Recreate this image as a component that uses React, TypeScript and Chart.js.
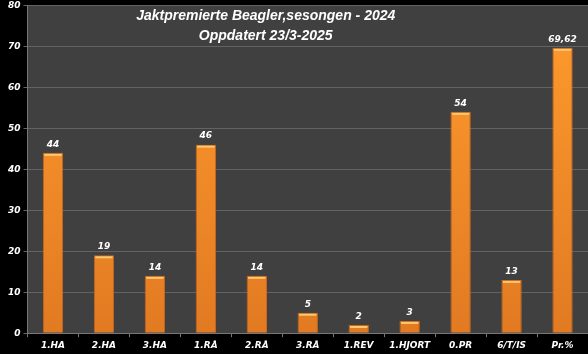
import React, { useEffect, useRef } from 'react';
import { Chart, registerables } from 'chart.js';
Chart.register(...registerables);

const categories = ['1.HA', '2.HA', '3.HA', '1.RÅ', '2.RÅ', '3.RÅ', '1.REV', '1.HJORT', '0.PR', '6/T/IS', 'Pr.%'];
const values = [44, 19, 14, 46, 14, 5, 2, 3, 54, 13, 69.62];
const valueLabels = ['44', '19', '14', '46', '14', '5', '2', '3', '54', '13', '69,62'];
const titleLines = ['Jaktpremierte Beagler,sesongen - 2024', 'Oppdatert 23/3-2025'];
const yMin = 0;
const yMax = 80;
const yStep = 10;

const FONT = "'DejaVu Sans', sans-serif";
const TITLE_FONT = "'Liberation Sans', sans-serif";

const bgPlugin = {
  id: 'bgPlugin',
  beforeDraw(chart: any) {
    const { ctx, chartArea, width, height } = chart;
    ctx.save();
    ctx.fillStyle = '#000000';
    ctx.fillRect(0, 0, width, height);
    ctx.fillStyle = '#404040';
    ctx.fillRect(chartArea.left, chartArea.top, chartArea.right - chartArea.left, chartArea.bottom - chartArea.top);
    ctx.restore();
  },
};

const overlayPlugin = {
  id: 'overlayPlugin',
  afterDatasetsDraw(chart: any) {
    const { ctx, chartArea } = chart;
    const meta = chart.getDatasetMeta(0);
    ctx.save();
    meta.data.forEach((bar: any, i: number) => {
      const w = bar.width;
      ctx.fillStyle = '#ffc870';
      ctx.fillRect(bar.x - w / 2 + 1.5, bar.y + 1, w - 3, 2);
      ctx.fillStyle = '#ffffff';
      ctx.font = `italic bold 9px ${FONT}`;
      ctx.textAlign = 'center';
      ctx.textBaseline = 'bottom';
      ctx.fillText(valueLabels[i], bar.x, bar.y - 4);
    });
    const cx = chartArea.left + (chartArea.right - chartArea.left) * 0.425;
    ctx.fillStyle = '#ffffff';
    ctx.font = `italic bold 14px ${TITLE_FONT}`;
    ctx.textAlign = 'center';
    ctx.textBaseline = 'middle';
    ctx.fillText(titleLines[0], cx, chartArea.top + 11);
    ctx.fillText(titleLines[1], cx, chartArea.top + 31);
    ctx.restore();
  },
};

export default function App() {
  const ref = useRef<HTMLCanvasElement | null>(null);
  useEffect(() => {
    if (!ref.current) return;
    const chart = new Chart(ref.current, {
      type: 'bar',
      data: {
        labels: categories,
        datasets: [
          {
            data: values,
            backgroundColor: (c: any) => {
              const area = c.chart.chartArea;
              if (!area) return '#f5922a';
              const g = c.chart.ctx.createLinearGradient(0, area.top, 0, area.bottom);
              g.addColorStop(0, '#ff9b2e');
              g.addColorStop(1, '#e27a22');
              return g;
            },
            borderColor: '#c9661a',
            borderWidth: 1,
            barPercentage: 0.4,
            categoryPercentage: 1,
          },
        ],
      },
      options: {
        responsive: false,
        animation: false,
        maintainAspectRatio: false,
        layout: { padding: { left: 5, top: 0, right: 0, bottom: 0 } },
        plugins: { legend: { display: false }, title: { display: false }, tooltip: { enabled: false } },
        scales: {
          x: {
            grid: { display: true, drawOnChartArea: false, drawTicks: true, tickLength: 4, color: '#777777', offset: true },
            border: { color: '#777777' },
            ticks: { color: '#ffffff', font: { family: FONT, size: 9, style: 'italic', weight: 'bold' }, padding: 3, maxRotation: 0, autoSkip: false },
          },
          y: {
            min: yMin,
            max: yMax,
            ticks: { stepSize: yStep, color: '#ffffff', font: { family: FONT, size: 9, style: 'italic', weight: 'bold', lineHeight: 0.5 }, padding: 3 },
            grid: { color: '#636363', tickLength: 4, drawTicks: true },
            border: { color: '#777777' },
          },
        },
      },
      plugins: [bgPlugin, overlayPlugin],
    });
    return () => chart.destroy();
  }, []);
  return (
    <div style={{ position: 'fixed', left: 0, top: 0, width: 588, height: 354, background: '#000' }}>
      <canvas ref={ref} width={588} height={354} style={{ display: 'block' }} />
    </div>
  );
}
